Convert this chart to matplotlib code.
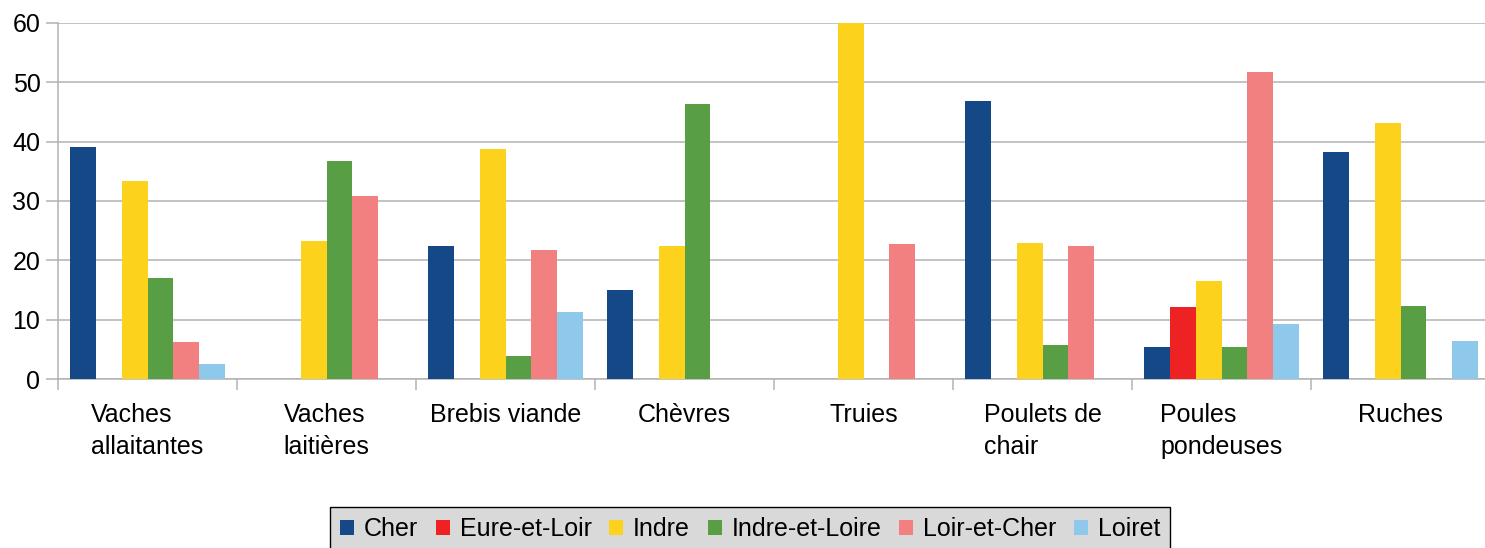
import matplotlib
matplotlib.use("Agg")
import matplotlib.pyplot as plt
import numpy as np

plt.rcParams['font.family'] = ['Liberation Sans', 'DejaVu Sans']

categories = ["Vaches\nallaitantes", "Vaches\nlaitières", "Brebis viande", "Chèvres",
              "Truies", "Poulets de\nchair", "Poules\npondeuses", "Ruches"]
departements = ["Cher", "Eure-et-Loir", "Indre", "Indre-et-Loire", "Loir-et-Cher", "Loiret"]

cher = [39.1, 0, 22.4, 15.1, 0, 46.9, 5.4, 38.3]
eure_et_loir = [0, 0, 0, 0, 0, 0, 12.1, 0]
indre = [33.4, 23.3, 38.7, 22.5, 60.0, 23.0, 16.6, 43.2]
indre_et_loire = [17.1, 36.8, 3.9, 46.4, 0, 5.7, 5.5, 12.3]
loir_et_cher = [6.2, 30.9, 21.8, 0, 22.7, 22.4, 51.7, 0]
loiret = [2.5, 0, 11.4, 0, 0, 0, 9.3, 6.4]

series = [cher, eure_et_loir, indre, indre_et_loire, loir_et_cher, loiret]
colors = ['#144886', '#ee2222', '#fcd21d', '#579e45', '#f28080', '#8ec8eb']

fig = plt.figure(figsize=(14.85, 5.48), dpi=100)
ax = fig.add_axes([58/1485, (548-379.3)/548, 1432/1485, (379.3-22.7)/548])

x = np.arange(len(categories)) + 0.5
w = 0.145
for i, vals in enumerate(series):
    ax.bar(x + (i - 2.5)*w, vals, width=w, color=colors[i], label=departements[i], zorder=3)

ax.set_xlim(0, 8)
ax.set_ylim(0, 60)
ax.set_yticks(range(0, 61, 10))
ax.grid(axis='y', color='#b3b3b3', linewidth=1.1, zorder=0)

# ticks at the category boundaries, labels at the centers
ax.set_xticks(range(0, 9))
ax.set_xticklabels([])
ax.set_xticks(x, minor=True)
ax.set_xticklabels(categories, minor=True, fontsize=18, ha='center', multialignment='left', linespacing=1.4)
ax.tick_params(axis='x', which='major', length=8, width=1.1, color='#b3b3b3', direction='out')
ax.tick_params(axis='x', which='minor', length=0, pad=17)
ax.tick_params(axis='y', length=8.6, width=1.1, color='#b3b3b3', direction='out', labelsize=18, pad=4)

for s in ['top', 'right']:
    ax.spines[s].set_visible(False)
for s in ['left', 'bottom']:
    ax.spines[s].set_color('#b3b3b3')
    ax.spines[s].set_linewidth(1.1)

leg = fig.legend(loc='upper center', bbox_to_anchor=(750/1485, 1-507/548), ncol=6, fontsize=18,
                 frameon=True, fancybox=False, framealpha=1, facecolor='#d9d9d9', edgecolor='black',
                 handlelength=0.56, handleheight=0.56, handletextpad=0.4, columnspacing=0.7,
                 borderpad=0.4, borderaxespad=0)
leg.get_frame().set_linewidth(1)

fig.savefig("out.png", dpi=100)
